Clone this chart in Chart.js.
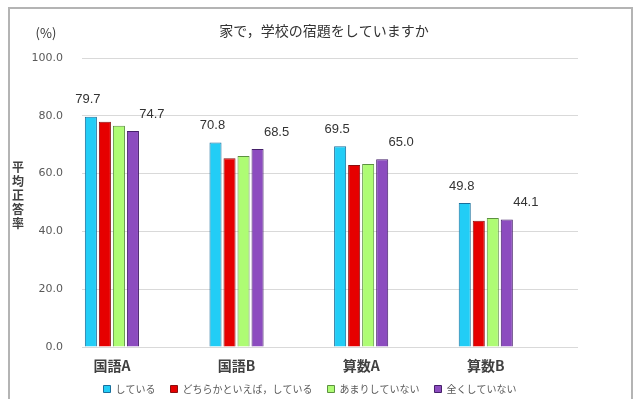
<!DOCTYPE html>
<html lang="ja">
<head>
<meta charset="utf-8">
<title>家で，学校の宿題をしていますか</title>
<script src="https://cdn.jsdelivr.net/npm/chart.js@4.4.1/dist/chart.umd.min.js"></script>
<style>
  html, body { margin: 0; padding: 0; background: #fff; }
  .wrap { position: relative; width: 640px; height: 399px; overflow: hidden; }
  .frame {
    position: absolute; left: 8px; top: 7px; width: 625px; height: 420px;
    border: 2px solid #b4b4b4; box-sizing: border-box;
  }
  canvas { position: absolute; left: 0; top: 0; }
</style>
</head>
<body>
<div class="wrap">
  <div class="frame"></div>
  <canvas id="chart" width="640" height="399"></canvas>
</div>
<script>
// 教科ごとの平均正答率（%）
const categories = ["国語A", "国語B", "算数A", "算数B"];
const seriesLabels = ["している", "どちらかといえば，している", "あまりしていない", "全くしていない"];
const shiteiru = [79.7, 70.8, 69.5, 49.8];
const dochiraka = [77.9, 65.3, 63.0, 43.7];
const amari = [76.6, 66.1, 63.3, 44.6];
const mattaku = [74.7, 68.5, 65.0, 44.1];
const yTicks = [0, 20, 40, 60, 80, 100];

const COLORS = [
  { fill: "#22cdf6", line: "#1a6f9c" },
  { fill: "#e60000", line: "#8a0f0f" },
  { fill: "#aefc74", line: "#5c9140" },
  { fill: "#8c4cbf", line: "#45206a" },
];

const JP = "'Noto Sans CJK JP', 'Noto Sans', sans-serif";

// 棒グラフの上に値を出すのは「している」「全くしていない」だけ
const valueLabels = {
  0: { dx: -3, dy: -17 },
  3: { dx: 19, dy: -17 },
};

const toPoints = (vals) => vals.map((v, i) => ({ x: i, y: v }));

const datasets = [shiteiru, dochiraka, amari, mattaku].map((vals, k) => ({
  label: seriesLabels[k],
  data: toPoints(vals),
  backgroundColor: COLORS[k].fill,
  borderColor: COLORS[k].line,
  borderWidth: 1,
  categoryPercentage: 0.45,
  barPercentage: 0.86,
}));

const extraText = {
  id: "extraText",
  afterLayout(chart) {
    // 凡例を少し上へ（x軸ラベルの領域と重ねる）
    const lg = chart.legend;
    lg.top -= 8;
    lg.bottom -= 8;
  },
  afterDatasetsDraw(chart) {
    const ctx = chart.ctx;
    ctx.save();
    ctx.fillStyle = "#333";
    ctx.font = "13px 'Liberation Sans', Arial, sans-serif";
    ctx.textAlign = "center";
    ctx.textBaseline = "middle";
    Object.keys(valueLabels).forEach((k) => {
      const off = valueLabels[k];
      const meta = chart.getDatasetMeta(Number(k));
      meta.data.forEach((bar, i) => {
        const v = chart.data.datasets[k].data[i].y;
        ctx.fillText(v.toFixed(1), bar.x + off.dx, bar.y + off.dy);
      });
    });
    ctx.restore();
  },
  afterDraw(chart) {
    const ctx = chart.ctx;
    ctx.save();
    ctx.fillStyle = "#333";
    ctx.textAlign = "center";
    ctx.textBaseline = "middle";
    ctx.font = `14px ${JP}`;
    ctx.fillText("家で，学校の宿題をしていますか", 324, 31);
    ctx.font = `13px ${JP}`;
    ctx.fillText("(%)", 46, 33);
    // 縦書きの軸タイトル
    ctx.font = `bold 12px ${JP}`;
    ctx.fillStyle = "#404040";
    const yTitle = "平均正答率";
    for (let i = 0; i < yTitle.length; i++) {
      ctx.fillText(yTitle[i], 18, 167 + i * 14);
    }
    ctx.restore();
  },
};

new Chart(document.getElementById("chart"), {
  type: "bar",
  data: { datasets },
  plugins: [extraText],
  options: {
    responsive: false,
    animation: false,
    layout: { padding: { top: 58, left: 20, right: 40, bottom: -13 } },
    plugins: {
      title: { display: false },
      tooltip: { enabled: false },
      legend: {
        position: "bottom",
        labels: {
          boxWidth: 7,
          boxHeight: 7,
          padding: 15,
          color: "#595959",
          font: { size: 10, family: JP },
        },
      },
    },
    scales: {
      x: {
        type: "linear",
        min: -0.24,
        max: 3.74,
        offset: false,
        grid: { display: false, drawTicks: false },
        border: { display: false },
        afterBuildTicks: (scale) => {
          scale.ticks = categories.map((_, i) => ({ value: i }));
        },
        afterFit: (scale) => {
          scale.height = 30;
        },
        ticks: {
          padding: 10,
          color: "#404040",
          font: { size: 14, weight: "bold", family: JP },
          callback: (v) => categories[v] ?? "",
        },
      },
      y: {
        min: 0,
        max: 100,
        afterBuildTicks: (scale) => {
          scale.ticks = yTicks.map((v) => ({ value: v }));
        },
        afterFit: (scale) => {
          scale.width = 62;
        },
        grid: { color: "#d9d9d9", drawTicks: false },
        border: { display: false },
        ticks: {
          padding: 19,
          color: "#595959",
          font: { size: 11, family: "'DejaVu Sans', sans-serif" },
          callback: (v) => Number(v).toFixed(1),
        },
      },
      y2: {
        position: "right",
        grid: { display: false },
        border: { display: false },
        ticks: { display: false },
        afterFit: (scale) => {
          scale.width = 22;
        },
      },
    },
  },
});
</script>
</body>
</html>
